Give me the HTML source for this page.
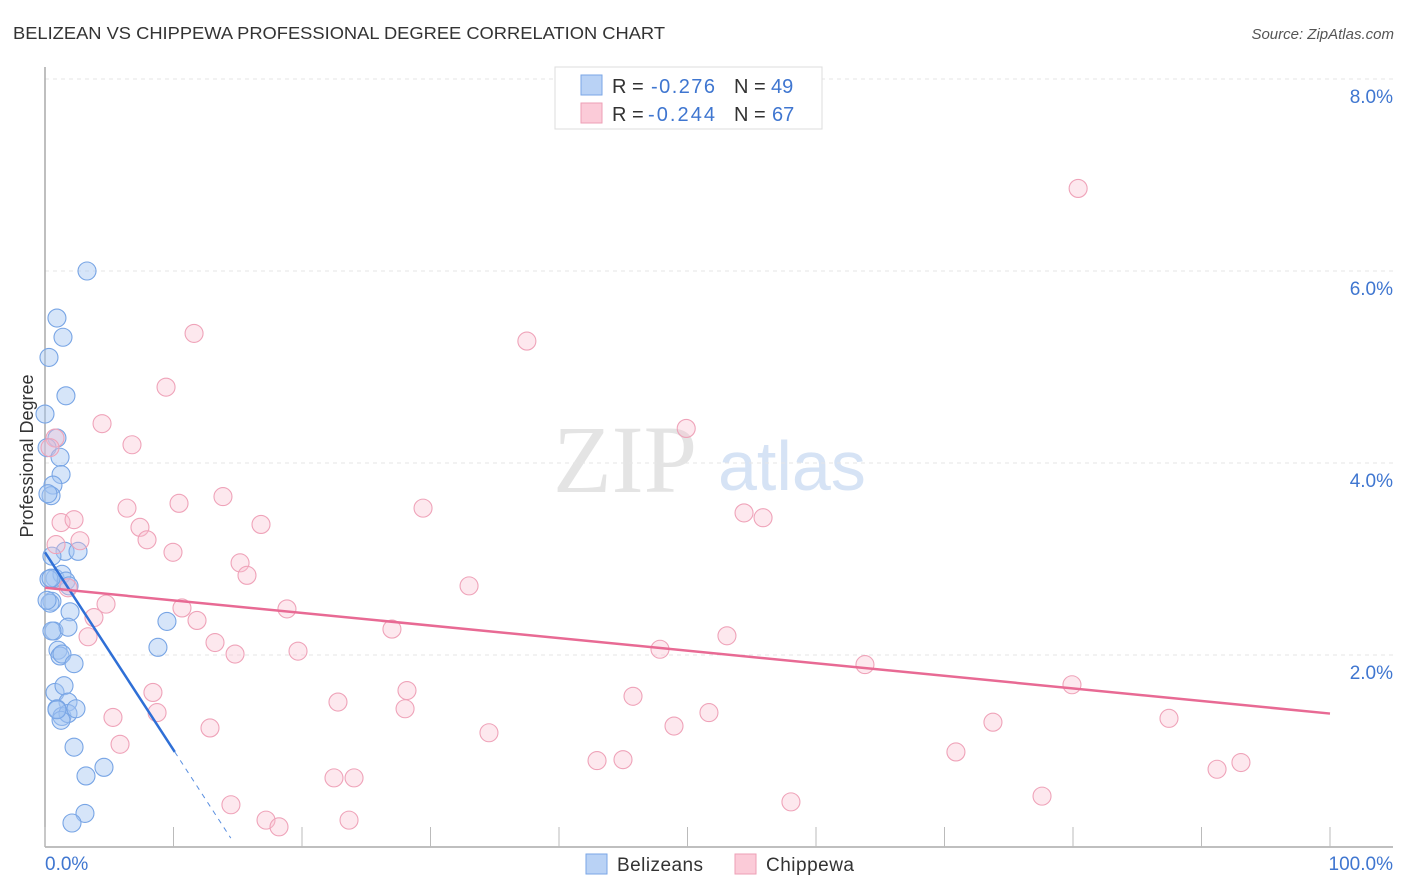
<!DOCTYPE html>
<html><head><meta charset="utf-8">
<style>
body{margin:0;background:#fff;font-family:"Liberation Sans",sans-serif;}
svg{display:block}
</style></head>
<body>
<svg id="chart" width="1406" height="892" xmlns="http://www.w3.org/2000/svg">
<text x="13" y="39" font-size="17.5" fill="#333" textLength="652" lengthAdjust="spacingAndGlyphs">BELIZEAN VS CHIPPEWA PROFESSIONAL DEGREE CORRELATION CHART</text>
<text x="1394" y="39" font-size="15" fill="#555" font-style="italic" text-anchor="end">Source: ZipAtlas.com</text>
<text transform="translate(33,456) rotate(-90)" font-size="18" fill="#333" text-anchor="middle">Professional Degree</text>
<g>
<text x="553" y="492" font-size="96" font-family="Liberation Serif,serif" fill="#e4e4e4">ZIP</text>
<text x="718" y="490" font-size="70" fill="#d6e3f5">atlas</text>
</g>
<g id="grid"></g>
<g id="axes"></g>
<g id="pts"></g>
<g id="trend"></g>
<g>
<rect x="555" y="67" width="267" height="62" fill="#fff" stroke="#ddd"/>
<rect x="581" y="75" width="21" height="20" fill="#b9d2f5" stroke="#7aa6e6"/>
<rect x="581" y="103" width="21" height="20" fill="#fbcbd8" stroke="#ee9fb6"/>
<text y="93" font-size="20" fill="#333"><tspan x="612">R =</tspan><tspan x="651" fill="#3f76d0" textLength="64">-0.276</tspan><tspan x="734">N =</tspan><tspan x="771" fill="#3f76d0">49</tspan></text>
<text y="121" font-size="20" fill="#333"><tspan x="612">R =</tspan><tspan x="648" fill="#3f76d0" textLength="67">-0.244</tspan><tspan x="734">N =</tspan><tspan x="772" fill="#3f76d0">67</tspan></text>
</g>
<g>
<rect x="586" y="854" width="21" height="20" fill="#b9d2f5" stroke="#7aa6e6"/>
<text x="617" y="871" font-size="19" fill="#333" textLength="86">Belizeans</text>
<rect x="735" y="854" width="21" height="20" fill="#fbcbd8" stroke="#ee9fb6"/>
<text x="766" y="871" font-size="19" fill="#333" textLength="88">Chippewa</text>
</g>
</svg>
<script>
const yTicks=[2,4,6,8];
const yTickLabels=["2.0%","4.0%","6.0%","8.0%"];
const xTicks=[0,10,20,30,40,50,60,70,80,90,100];
const blueX=[3.27,0.93,1.40,0.31,1.63,0,0.93,0.16,1.17,1.25,0.62,0.47,0.23,1.56,2.57,0.54,0.78,1.32,1.63,0.54,0.39,1.95,0.70,1.79,1.01,1.17,1.32,2.26,0.78,1.48,1.79,0.93,1.32,1.79,2.41,1.25,2.26,3.19,4.59,9.49,8.79,3.11,2.10,0.31,0.47,0.16,0.93,0.54,1.87];
const blueY=[6.0,5.51,5.31,5.10,4.70,4.51,4.26,4.16,4.06,3.88,3.77,3.66,3.68,3.08,3.08,3.03,2.80,2.84,2.77,2.56,2.54,2.45,2.25,2.29,2.05,1.99,2.01,1.91,1.61,1.68,1.51,1.44,1.36,1.39,1.44,1.32,1.04,0.74,0.83,2.35,2.08,0.35,0.25,2.79,2.80,2.57,1.43,2.25,2.72];
const pinkX=[80.4,11.6,37.5,9.42,4.44,6.77,49.9,0.78,0.39,13.85,10.43,6.38,29.42,1.25,2.26,16.81,7.39,7.94,2.72,0.86,9.96,15.18,15.72,54.4,55.88,33.0,1.79,4.75,10.66,3.81,11.83,18.83,3.35,27.0,13.23,53.07,14.79,19.69,47.86,63.81,8.40,28.17,45.76,79.92,22.8,8.72,5.29,28.02,51.67,48.95,73.77,87.47,12.84,34.55,5.84,70.89,42.96,44.98,93.07,91.21,22.49,24.05,77.59,58.05,14.47,17.2,18.21,23.66];
const pinkY=[6.86,5.35,5.27,4.79,4.41,4.19,4.36,4.26,4.16,3.65,3.58,3.53,3.53,3.38,3.41,3.36,3.33,3.20,3.19,3.15,3.07,2.96,2.83,3.48,3.43,2.72,2.70,2.53,2.49,2.39,2.36,2.48,2.19,2.27,2.13,2.20,2.01,2.04,2.06,1.90,1.61,1.63,1.57,1.69,1.51,1.40,1.35,1.44,1.40,1.26,1.30,1.34,1.24,1.19,1.07,0.99,0.90,0.91,0.88,0.81,0.72,0.72,0.53,0.47,0.44,0.28,0.21,0.28];
const blueTrend=[3.07,0.99,10.1];
const pinkTrend=[2.70,1.39];
const NS="http://www.w3.org/2000/svg";
const sx=v=>45+v*12.85, sy=v=>847-v*96;
function mk(tag,attrs,parent){const e=document.createElementNS(NS,tag);for(const k in attrs)e.setAttribute(k,attrs[k]);parent.appendChild(e);return e;}
const grid=document.getElementById('grid'),axes=document.getElementById('axes'),pts=document.getElementById('pts'),tr=document.getElementById('trend');
yTicks.forEach((t,i)=>{
 const l=mk('line',{x1:45,x2:1393,y1:sy(t),y2:sy(t),stroke:'#e6e6e6','stroke-dasharray':'4,4'},grid);
 
 
 const tx=mk('text',{x:1393,y:sy(t)+24,'font-size':19,fill:'#3f76d0','text-anchor':'end'},axes);
 tx.textContent=yTickLabels[i];
 
 
});
let a=mk('line',{x1:45,x2:45,y1:67,y2:847,stroke:'#aaa','stroke-width':1.5},axes);


a=mk('line',{x1:45,x2:1393,y1:847,y2:847,stroke:'#aaa','stroke-width':1.5},axes);


xTicks.forEach(t=>{const l=mk('line',{x1:sx(t),x2:sx(t),y1:827,y2:847,stroke:'#bbb'},axes);
 
 });
let t0=mk('text',{x:45,y:870,'font-size':19,fill:'#3f76d0'},axes);t0.textContent='0.0%';


t0=mk('text',{x:1393,y:870,'font-size':19,fill:'#3f76d0','text-anchor':'end'},axes);t0.textContent='100.0%';


blueX.forEach((x,i)=>{const c=mk('circle',{cx:sx(x),cy:sy(blueY[i]),r:9,fill:'rgba(165,198,242,0.45)',stroke:'#78a5e5','stroke-width':1.1},pts);
 
 });
pinkX.forEach((x,i)=>{const c=mk('circle',{cx:sx(x),cy:sy(pinkY[i]),r:9,fill:'rgba(249,190,207,0.35)',stroke:'#efa3b9','stroke-width':1.1},pts);
 
 });
const bs=(blueTrend[1]-blueTrend[0])/blueTrend[2];
let ln=mk('line',{x1:sx(0),y1:sy(blueTrend[0]),x2:sx(blueTrend[2]),y2:sy(blueTrend[1]),stroke:'#2f6fd6','stroke-width':2.5},tr);


const xe=-blueTrend[0]/bs*0.97;
ln=mk('line',{x1:sx(blueTrend[2]),y1:sy(blueTrend[1]),x2:sx(xe),y2:sy(blueTrend[0]+bs*xe),stroke:'#5a8fe0','stroke-width':1,'stroke-dasharray':'5,5'},tr);


ln=mk('line',{x1:sx(0),y1:sy(pinkTrend[0]),x2:sx(100),y2:sy(pinkTrend[1]),stroke:'#e86a94','stroke-width':2.5},tr);


</script>
</body></html>
